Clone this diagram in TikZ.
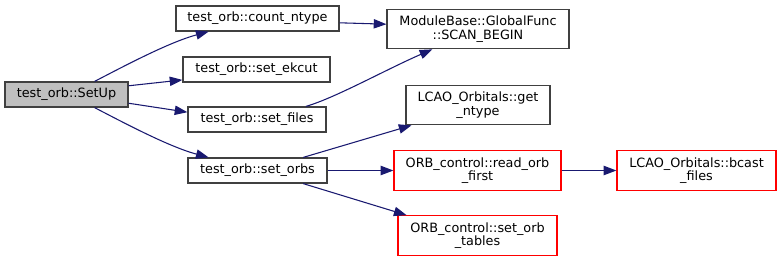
\documentclass[tikz,border=0pt]{standalone}
\usepackage{fontspec}
\setmainfont{DejaVu Sans}
\usepackage{xcolor}
\usetikzlibrary{arrows.meta}

\definecolor{edgeblue}{RGB}{25,25,112}
\definecolor{boxgrey}{RGB}{64,64,64}
\definecolor{rootfill}{RGB}{191,191,191}

\tikzset{
  fnbox/.style={draw=boxgrey, line width=0.9pt, fill=white, inner sep=0pt, minimum height=18.75pt,
    align=center, font=\fontsize{9.6}{10}\selectfont},
  fnbox2/.style={fnbox, minimum height=29.6pt},
  redbox/.style={fnbox2, draw=red},
  call/.style={draw=edgeblue, line width=0.8pt, -{Triangle[length=9.5pt,width=7pt]}}
}

\begin{document}
\begin{tikzpicture}[x=0.75pt,y=0.75pt,yscale=-1,xscale=1]
            \useasboundingbox (0,0) rectangle (781,262);

            % Root node
            \node [fnbox, fill=rootfill, minimum width=92.25pt] (setup) at (66.5,94.5) {test\_orb::SetUp};

            % Called from SetUp
            \node [fnbox, minimum width=122.25pt] (countntype) at (257.5,18.5) {test\_orb::count\_ntype};
            \node [fnbox, minimum width=110.25pt] (setekcut) at (256.5,69.5) {test\_orb::set\_ekcut};
            \node [fnbox, minimum width=103.5pt] (setfiles) at (257,119.5) {test\_orb::set\_files};
            \node [fnbox, minimum width=104.25pt] (setorbs) at (257.5,170.5) {test\_orb::set\_orbs};

            % Next level
            \node [fnbox2, minimum width=136.5pt] (scanbegin) at (478,29) {ModuleBase::GlobalFunc\\::SCAN\_BEGIN};
            \node [fnbox2, minimum width=108pt] (getntype) at (478,105) {LCAO\_Orbitals::get\\\_ntype};
            \node [redbox, minimum width=125.25pt] (readorb) at (477.5,170.5) {ORB\_control::read\_orb\\\_first};
            \node [redbox, minimum width=119.25pt] (orbtables) at (477.5,235.5) {ORB\_control::set\_orb\\\_tables};
            \node [redbox, minimum width=119.25pt] (bcastfiles) at (696.5,170.5) {LCAO\_Orbitals::bcast\\\_files};

            % Edges
            \draw [call] (setup.25) .. controls (128,64) and (170,42) .. (countntype.195);
            \draw [call] (setup.8) -- (setekcut.188);
            \draw [call] (setup.352) -- (setfiles.174);
            \draw [call] (setup.335) .. controls (128,125) and (170,147) .. (setorbs.165);

            \draw [call] (countntype.357) -- (scanbegin.177);
            \draw [call] (setfiles.15) .. controls (335,98) and (385,70) .. (scanbegin.204);

            \draw [call] (setorbs.16) -- (getntype.197);
            \draw [call] (setorbs.east) -- (readorb.west);
            \draw [call] (setorbs.344) -- (orbtables.164);

            \draw [call] (readorb.east) -- (bcastfiles.west);

\end{tikzpicture}
\end{document}
